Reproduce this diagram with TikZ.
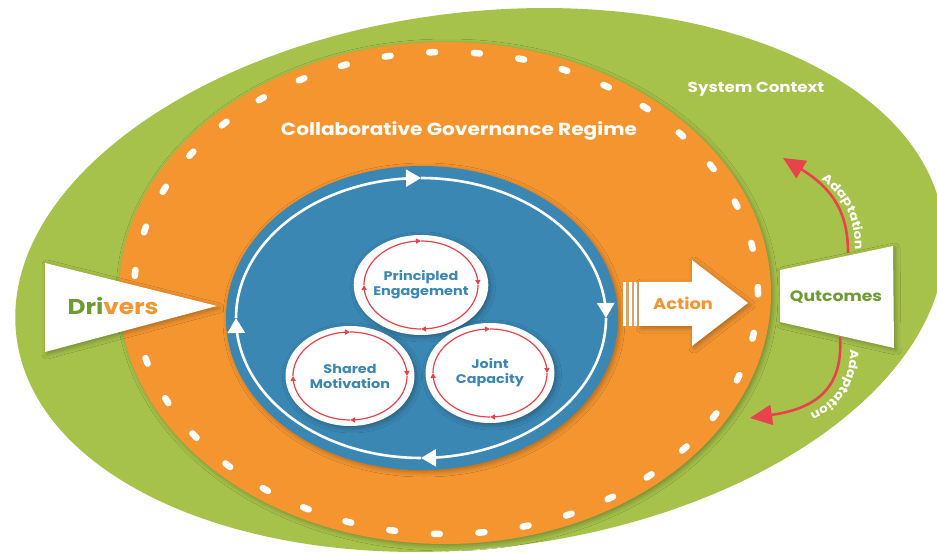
\documentclass[tikz,border=0pt]{standalone}
\usepackage{fontspec}
\setmainfont{Poppins}[FakeStretch=1.15]
\usetikzlibrary{arrows.meta,decorations.text,shapes.geometric,shadows.blur}
\definecolor{cgreen}{HTML}{A6C24A}
\definecolor{corange}{HTML}{F49530}
\definecolor{cblue}{HTML}{3A87B4}
\definecolor{cred}{HTML}{E8434B}
\definecolor{tgreen}{HTML}{6E9B30}
\definecolor{ctan}{HTML}{D9A36C}
\begin{document}
\begin{tikzpicture}[x=1pt,y=-1pt,
  lbl/.style={inner sep=0pt, font=\bfseries},
  shad/.style={blur shadow={shadow xshift=2pt, shadow yshift=-2pt, shadow blur radius=5pt, shadow opacity=30}},
  bubble/.style={ellipse, fill=white, inner sep=0pt, minimum width=129pt, minimum height=100pt, align=center, text=cblue, font=\bfseries\fontsize{12.5}{15}\selectfont, shad},
  loopw/.style={white, line width=2.6pt, -{Triangle[length=15pt,width=17pt]}},
  loopr/.style={cred, line width=1.2pt, -{Triangle[length=5pt,width=5pt]}},
  adapt/.style={cred, line width=2.6pt, -{Triangle[length=22pt,width=20pt]}},
  adtext/.style={decorate, decoration={text along path, text color=white, text align=left,
     text={|\bfseries\fontsize{12}{12}\selectfont|Adaptation}}}
]
\useasboundingbox (0,0) rectangle (937,553);
\fill[white] (0,0) rectangle (937,553);
% outer system context
\fill[cgreen, rotate around={6.9:(480,280)}] (480,280) ellipse [x radius=467pt, y radius=268pt];
% regime
\fill[corange, shad] (445,293) ellipse [x radius=326pt, y radius=251pt];
\draw[white, line width=6.5pt, line cap=round, dash pattern=on 6pt off 38.7pt] (446,293) ellipse [x radius=312pt, y radius=241pt];
% dynamics
\fill[cblue, shad] (422,318) ellipse [x radius=196pt, y radius=152pt];
\foreach \a/\b in {-90/0, 0/90, 90/180, 180/270}
  \draw[loopw] plot[domain=\a:\b, samples=40, smooth] ({421+185*cos(\x)}, {318+140*sin(\x)});
% bubbles
\node[bubble] (pe) at (421,285) {Principled\\Engagement};
\node[bubble] (sm) at (350,376) {Shared\\Motivation};
\node[bubble] (jc) at (490,373) {Joint\\Capacity};
\foreach \cx/\cy in {421/285, 350/376, 490/373}
  \foreach \a/\b in {-90/0, 0/90, 90/180, 180/270}
    \draw[loopr] plot[domain=\a:\b, samples=30, smooth] ({\cx+57*cos(\x)}, {\cy+44*sin(\x)});
% drivers
\fill[white, shad] (45,263) -- (45,352) -- (217,306) -- cycle;
\node[lbl, font=\bfseries\fontsize{21.5}{21.5}\selectfont] (drivers) at (113,306) {\textcolor{tgreen}{Dri}\textcolor{corange}{vers}};
% action arrow
\fill[ctan] (623,282) rectangle (640,326);
\fill[white] (623,282) rectangle (626,326);
\fill[white] (628.5,282) rectangle (631.5,326);
\fill[white] (634,282) rectangle (637,326);
\fill[white, shad] (639,282) -- (692,282) -- (692,260) -- (748,303) -- (692,346) -- (692,326) -- (639,326) -- cycle;
\node[lbl, text=corange, font=\bfseries\fontsize{15.5}{15.5}\selectfont] (action) at (683,303) {Action};
% outcomes
\fill[white, shad] (780,270) -- (893,246) -- (894,348) -- (780,322) -- cycle;
\node[lbl, text=tgreen, font=\bfseries\fontsize{15}{15}\selectfont] (out) at (836,297) {Qutcomes};
% adaptation arrows
\coordinate (upS) at (848,253);
\coordinate (upE) at (783,158);
\coordinate (loS) at (840,337);
\coordinate (loE) at (750,418);
\draw[adapt] (upS) .. controls (848,215) and (835,190) .. (upE);
\draw[adapt] (loS) .. controls (843,385) and (820,408) .. (loE);
\path[adtext] (821,180) .. controls (843,195) and (855,215) .. (855,252);
\path[adtext] (850,349) .. controls (851,388) and (828,412) .. (785,421);
% titles
\node[lbl, text=white, font=\bfseries\fontsize{17.5}{17.5}\selectfont] (cgr) at (459,131) {Collaborative Governance Regime};
\node[lbl, text=white, font=\bfseries\fontsize{14.5}{14.5}\selectfont] (sys) at (756,89) {System Context};
\end{tikzpicture}
\end{document}
